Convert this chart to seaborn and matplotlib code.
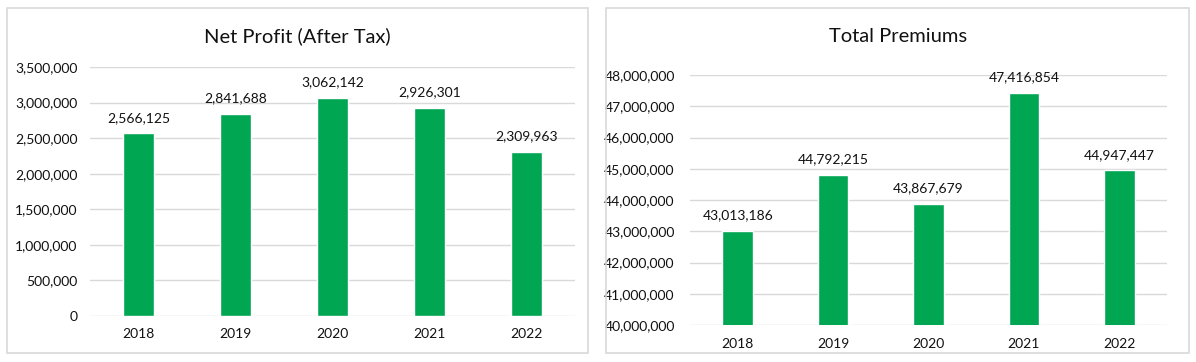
import matplotlib
matplotlib.use("Agg")
import matplotlib.pyplot as plt
import matplotlib.ticker as mticker
import seaborn as sns
import pandas as pd
from matplotlib.patches import Rectangle

# DATA
years = ["2018", "2019", "2020", "2021", "2022"]
net_profit = [2566125, 2841688, 3062142, 2926301, 2309963]
total_premiums = [43013186, 44792215, 43867679, 47416854, 44947447]

GREEN = "#00A651"
GRID = "#d9d9d9"
TXT = "#111111"

sns.set_theme(style="white")
plt.rcParams["font.family"] = ["Lato", "DejaVu Sans"]

fig = plt.figure(figsize=(11.96, 3.62), dpi=100)

# panel borders
for x0, x1 in [(7, 588), (606, 1189)]:
    fig.patches.append(Rectangle((x0 / 1196, 1 - 353 / 362), (x1 - x0) / 1196, 345 / 362,
                                 transform=fig.transFigure, fill=False,
                                 edgecolor=GRID, linewidth=1.2))

ax1 = fig.add_axes([90 / 1196, 1 - 316 / 362, (575 - 90) / 1196, (316 - 67) / 362])
ax2 = fig.add_axes([690 / 1196, 1 - 325 / 362, (1167 - 690) / 1196, (325 - 75) / 362])


def draw(ax, values, title, ylim, step, title_pos, ypad):
    df = pd.DataFrame({"year": years, "value": values})
    sns.barplot(data=df, x="year", y="value", color=GREEN, width=0.32,
                saturation=1, ax=ax, zorder=3)
    ax.set_ylim(*ylim)
    ax.yaxis.set_major_locator(mticker.MultipleLocator(step))
    ax.yaxis.set_major_formatter(mticker.FuncFormatter(lambda v, p: f"{v:,.0f}"))
    ax.grid(axis="y", color=GRID, linewidth=1, zorder=0)
    ax.grid(axis="x", visible=False)
    for s in ax.spines.values():
        s.set_visible(False)
    ax.tick_params(axis="both", length=0, labelsize=10, colors=TXT)
    ax.tick_params(axis="y", pad=ypad)
    ax.tick_params(axis="x", pad=9)
    ax.set_xlabel("")
    ax.set_ylabel("")
    ax.set_xlim(-0.5, 4.5)
    ax.bar_label(ax.containers[0], labels=[f"{v:,}" for v in values],
                 padding=7, fontsize=10, color=TXT)
    fig.text(title_pos[0], title_pos[1], title, ha="center", va="center",
             fontsize=14.5, color=TXT)


draw(ax1, net_profit, "Net Profit (After Tax)", (0, 3500000), 500000,
     (297 / 1196, 1 - 36 / 362), 9)
draw(ax2, total_premiums, "Total Premiums", (40000000, 48000000), 1000000,
     (898 / 1196, 1 - 36 / 362), 11)

fig.savefig("out.png", dpi=100)
